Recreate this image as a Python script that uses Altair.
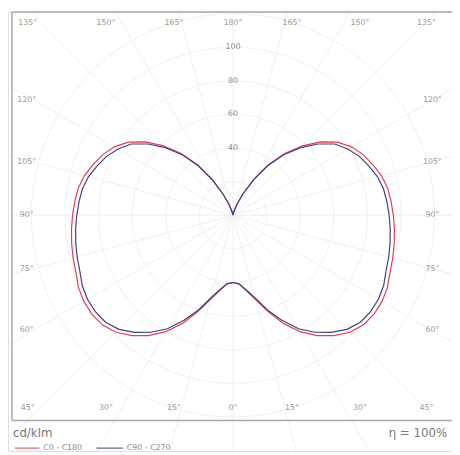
import altair as alt
import pandas as pd
import numpy as np

# ---- data (cd/klm) ----
gamma = list(range(0, 181, 5))
c0_c180 = [40, 41, 45.5, 52, 61, 71, 80, 87.5, 93.5, 98.5, 101.5, 102.5, 102.5,
           101.5, 99.5, 98.5, 97.5, 96.5, 95.5, 94.5, 93.5, 91.5, 88.5, 85.5,
           81.5, 76, 68, 58.5, 48, 36.5, 24.5, 14, 7, 2.5, 0.8, 0.2, 0]
c90_c270 = [40, 41, 45, 51, 60, 69, 78, 85, 91, 96, 99, 100, 100,
            99, 97, 96, 95, 94, 93, 92, 91, 89, 86, 83,
            79, 74, 66, 57, 47, 36, 24, 14, 7, 2.5, 0.8, 0.2, 0]
series_names = ["C0 - C180", "C90 - C270"]
series_colors = ["#de3f55", "#404080"]
ring_values = [20, 40, 60, 80, 100, 120]
ring_label_values = [40, 60, 80, 100]
angle_marks = [0, 15, 30, 45, 60, 75, 90, 105, 120, 135, 150, 165, 180]
spoke_angles = list(range(0, 360, 15))

K = 1.71  # px per cd/klm
W, H = 452, 447
CX, CY = 237 - 8, 215 - 8  # centre in view px

xdom = [(0 - CX) / K, (W - CX) / K]
ydom = [(CY - H) / K, (CY - 0) / K]
xs = alt.Scale(domain=xdom, nice=False, zero=False)
ys = alt.Scale(domain=ydom, nice=False, zero=False)

# ---- curves ----
rows = []
for name, vals in zip(series_names, [c0_c180, c90_c270]):
    o = 0
    for g, r in zip(gamma[::-1], vals[::-1]):
        a = np.radians(g)
        rows.append(dict(s=name, o=o, x=r * np.sin(a), y=-r * np.cos(a))); o += 1
    for g, r in zip(gamma, vals):
        a = np.radians(g)
        rows.append(dict(s=name, o=o, x=-r * np.sin(a), y=-r * np.cos(a))); o += 1
curve = pd.DataFrame(rows)

# ---- grid ----
grows = []
t = np.linspace(0, 2 * np.pi, 181)
for rv in ring_values:
    for i, tt in enumerate(t):
        grows.append(dict(g=f"r{rv}", o=i, x=rv * np.cos(tt), y=rv * np.sin(tt)))
for a in spoke_angles:
    ar = np.radians(a)
    grows.append(dict(g=f"s{a}", o=0, x=0, y=0))
    grows.append(dict(g=f"s{a}", o=1, x=300 * np.sin(ar), y=-300 * np.cos(ar)))
grid = pd.DataFrame(grows)

ring_lab = pd.DataFrame(dict(x=[0] * len(ring_label_values), y=ring_label_values,
                             t=[str(v) for v in ring_label_values]))

# ---- angle labels around frame ----
lrows = []
for a in angle_marks:
    for side in (-1, 1):
        if a in (0, 180) and side == 1:
            continue
        if a <= 45 or a >= 135:
            yy = 196 if a <= 45 else -196
            dev = a if a <= 45 else 180 - a
            xx = side * 224 * np.tan(np.radians(dev))
            xx = min(max(xx, -209), 197)
        else:
            xx = -210 if side < 0 else 203
            yy = 203 * np.tan(np.radians(90 - a))
        lrows.append(dict(x=xx / K, y=-yy / K, t=f"{a}°"))
alab = pd.DataFrame(lrows)

base_font = "DejaVu Sans"

grid_layer = alt.Chart(grid).mark_line(color="#f0f0f0", strokeWidth=1, clip=True).encode(
    x=alt.X("x:Q", scale=xs, axis=None), y=alt.Y("y:Q", scale=ys, axis=None),
    detail="g:N", order="o:Q")

curve_layer = alt.Chart(curve).mark_line(strokeWidth=1.2).encode(
    x=alt.X("x:Q", scale=xs, axis=None), y=alt.Y("y:Q", scale=ys, axis=None),
    color=alt.Color("s:N", scale=alt.Scale(domain=series_names, range=series_colors), legend=None),
    order="o:Q")

ring_text = alt.Chart(ring_lab).mark_text(font=base_font, fontSize=8, color="#8a8a8a").encode(
    x=alt.X("x:Q", scale=xs), y=alt.Y("y:Q", scale=ys), text="t:N")

angle_text = alt.Chart(alab).mark_text(font=base_font, fontSize=8, color="#9a9a9a").encode(
    x=alt.X("x:Q", scale=xs), y=alt.Y("y:Q", scale=ys), text="t:N")

frame_df = pd.DataFrame(dict(k=[0]))
left_edge = alt.Chart(frame_df).mark_rule(color="#a8a8a8", strokeWidth=1.5).encode(
    x=alt.value(4), y=alt.value(0), y2=alt.value(416))
top_edge = alt.Chart(frame_df).mark_rule(color="#a8a8a8", strokeWidth=1.5).encode(
    x=alt.value(4), x2=alt.value(W), y=alt.value(0))
bottom_edge = alt.Chart(frame_df).mark_rule(color="#a8a8a8", strokeWidth=1.5).encode(
    x=alt.value(4), x2=alt.value(W), y=alt.value(416))

unit_text = alt.Chart(frame_df).mark_text(font=base_font, fontSize=12, color="#777777",
                                          align="left", baseline="middle", text="cd/klm").encode(
    x=alt.value(5), y=alt.value(429))
eta_text = alt.Chart(frame_df).mark_text(font=base_font, fontSize=12, color="#777777",
                                         align="right", baseline="middle", text="η = 100%").encode(
    x=alt.value(447), y=alt.value(429))

leg_df = pd.DataFrame(dict(s=series_names, x0=[7, 90], x1=[32, 117]))
lscale = alt.Scale(domain=[0, W], range=[0, W], nice=False, zero=False)
leg_lines = alt.Chart(leg_df).mark_rule(strokeWidth=1).encode(
    x=alt.X("x0:Q", scale=lscale, axis=None),
    x2="x1:Q", y=alt.value(444),
    color=alt.Color("s:N", scale=alt.Scale(domain=series_names, range=series_colors), legend=None))
leg_text = alt.Chart(leg_df).mark_text(font=base_font, fontSize=8, color="#888888",
                                       align="left", baseline="middle").encode(
    x=alt.X("x1:Q", scale=lscale, axis=None),
    y=alt.value(444), text="s:N", xOffset=alt.value(4))

main = alt.layer(grid_layer, curve_layer, ring_text, angle_text,
                 left_edge, top_edge, bottom_edge, unit_text, eta_text).resolve_scale(x="shared")
legend = alt.layer(leg_lines, leg_text)

chart = alt.layer(main, legend).resolve_scale(x="independent", y="independent", color="shared").properties(
    width=W, height=H, padding=0, autosize="none"
).configure_view(strokeWidth=0, stroke="transparent").configure(background="white")

chart.save("out.html", embed_options={"renderer": "svg", "actions": False})
